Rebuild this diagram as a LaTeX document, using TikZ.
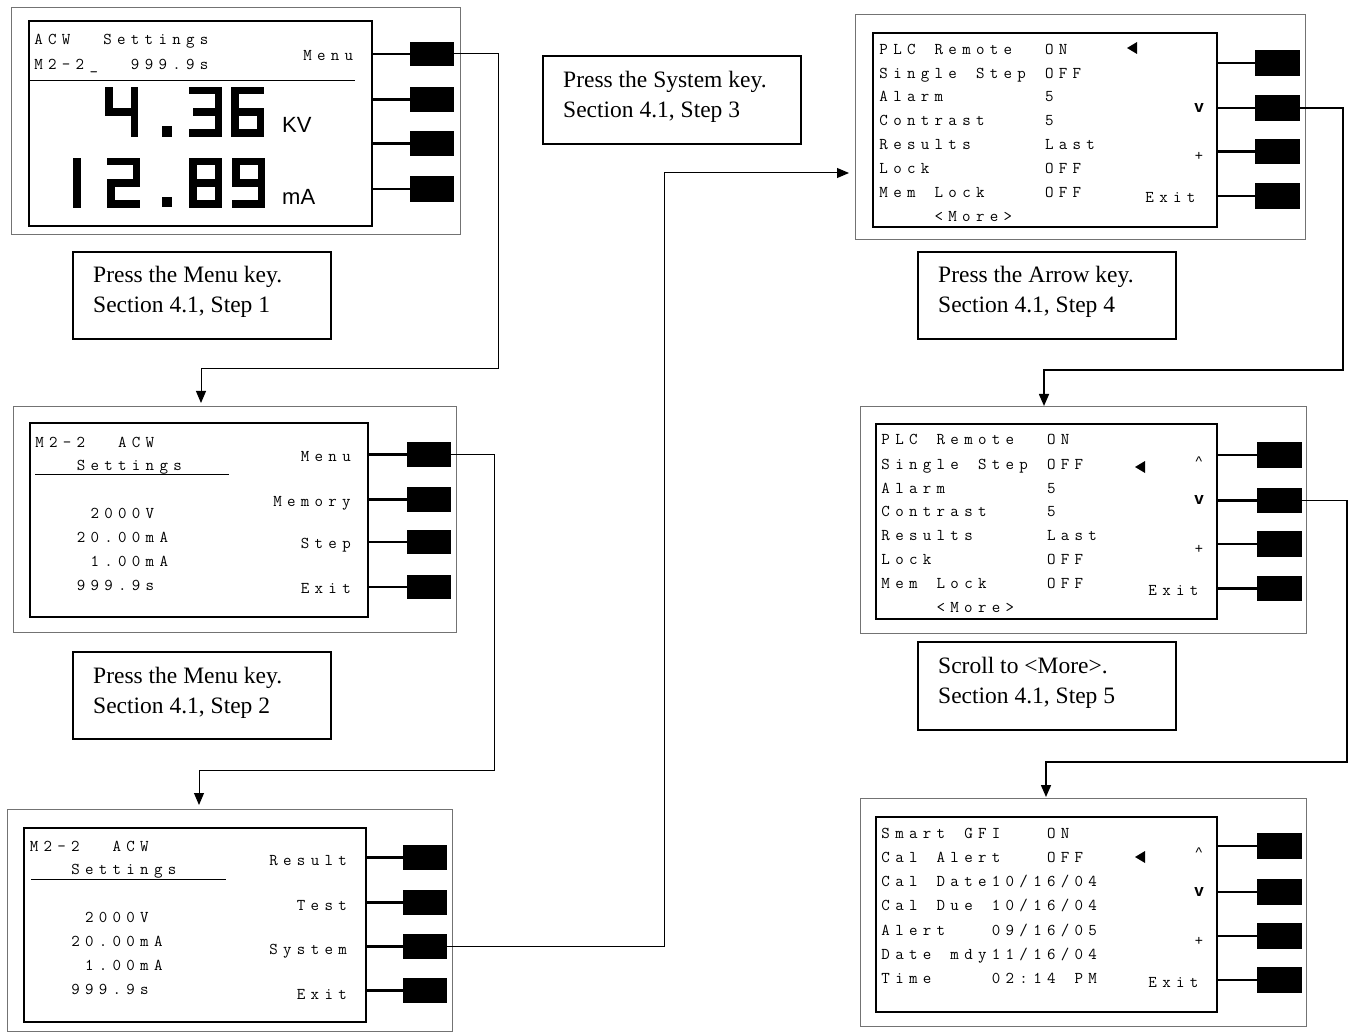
\documentclass[tikz,border=0pt]{standalone}
\usepackage{fontspec}
\usetikzlibrary{arrows.meta,fit}
\newfontfamily\capfont{Liberation Serif}
\newfontfamily\unitfont{Liberation Sans}
\newcommand\lcdfont{\ttfamily}
\ExplSyntaxOn
\dim_new:N \l_lcdp_dim
\dim_set:Nn \l_lcdp_dim {13.8pt}
\NewDocumentCommand\lcd{m}{
  \str_map_inline:nn {#1}
    { \str_if_eq:nnTF {##1}{|}
        { \hbox_to_wd:nn {\l_lcdp_dim} {} }
        { \hbox_to_wd:nn {\l_lcdp_dim} { \hss ##1 \hss } } }
}
\ExplSyntaxOff
\newcommand\rectnode[6][]{\node[#1, fit={(#3,#4) (#5,#6)}] (#2) {};}
\newcommand\sevseg[3]{\begin{scope}[shift={(#1,#2)}]\draw[segstroke] #3;\end{scope}}
\tikzset{
  panel/.style={draw=black!55, line width=1pt, inner sep=0pt, outer sep=0pt},
  screen/.style={draw=black, line width=2.5pt, inner sep=0pt, outer sep=0pt},
  btn/.style={fill=black, draw=none, inner sep=0pt, outer sep=0pt},
  capbox/.style={draw=black, line width=1.5pt, inner sep=0pt, outer sep=0pt},
  keyline/.style={line width=2.5pt},
  conn/.style={line width=1pt, -{Triangle[length=12pt,width=10pt]}},
  connb/.style={line width=1.6pt, -{Triangle[length=12pt,width=10pt]}},
  lcdtxt/.style={inner sep=0pt, anchor=base west, font=\lcdfont\fontsize{16.5}{16.5}\selectfont},
  lcdr/.style={inner sep=0pt, anchor=base east, font=\lcdfont\fontsize{16.5}{16.5}\selectfont},
  caret/.style={inner sep=0pt, anchor=base, font=\unitfont\fontsize{14}{14}\selectfont},
  chev/.style={inner sep=0pt, anchor=base, font=\unitfont\bfseries\fontsize{17}{17}\selectfont},
  unit/.style={inner sep=0pt, anchor=base west, font=\unitfont\fontsize{22}{22}\selectfont},
  captxt/.style={inner sep=0pt, anchor=base west, font=\capfont\fontsize{23.5}{23.5}\selectfont},
  segstroke/.style={line width=7.5pt, line cap=rect, line join=miter},
}
\begin{document}
\begin{tikzpicture}[x=1pt,y=-1pt]
\useasboundingbox (0,0) rectangle (1353,1032);
\fill[white] (0,0) rectangle (1353,1032);

% ---------------- Panel 1 ----------------
\rectnode[panel]{p1}{11}{8}{460}{235}
\rectnode[screen]{p1s}{29}{21}{372}{226}
\rectnode[btn]{p1b1}{410}{42}{454}{66}
\rectnode[btn]{p1b2}{410}{87}{454}{112}
\rectnode[btn]{p1b3}{410}{131}{454}{156}
\rectnode[btn]{p1b4}{410}{176}{454}{202}
\foreach \b in {1,2,3,4}{\draw[keyline] (p1s.east |- p1b\b.west) -- (p1b\b.west);}
\node[lcdtxt] (p1t1) at (31.5,45) {\lcd{ACW||Settings}};
\node[lcdtxt] (p1t2) at (31.5,70) {\lcd{M2-2_||999.9s}};
\node[lcdr] (p1k1) at (356,61) {\lcd{Menu}};
\draw[line width=1pt] (30,81) -- (355,81);
% big digits 4.36
\sevseg{105}{87}{(3.75,3.75)--(3.75,25)--(29.25,25) (29.25,3.75)--(29.25,46.25)}
\fill (162,126) rectangle (172,137);
\sevseg{189}{87}{(3.75,3.75)--(29.25,3.75)--(29.25,46.25)--(3.75,46.25) (8,25)--(29.25,25)}
\sevseg{231}{87}{(29.25,3.75)--(3.75,3.75)--(3.75,46.25)--(29.25,46.25)--(29.25,25)--(3.75,25)}
\node[unit] (p1kv) at (282,133) {KV};
% big digits 12.89
\sevseg{73}{158}{(3.75,3.75)--(3.75,46.25)}
\sevseg{107}{158}{(3.75,3.75)--(29.25,3.75)--(29.25,25)--(3.75,25)--(3.75,46.25)--(29.25,46.25)}
\fill (162,197) rectangle (172,207);
\sevseg{189}{158}{(3.75,3.75) rectangle (29.25,46.25) (3.75,25)--(29.25,25)}
\sevseg{232}{158}{(29.25,25)--(3.75,25)--(3.75,3.75)--(29.25,3.75)--(29.25,46.25)--(3.75,46.25)}
\node[unit] (p1ma) at (282,205) {mA};

% ---------------- Caption 1 ----------------
\rectnode[capbox]{cb1}{73}{252}{331}{339}
\node[captxt] (cb1a) at (93,283) {Press the Menu key.};
\node[captxt] (cb1b) at (93,313) {Section 4.1, Step 1};

% ---------------- Panel 2 ----------------
\rectnode[panel]{p2}{13}{407}{456}{632}
\rectnode[screen]{p2s}{30}{423}{368}{617}
\rectnode[btn]{p2b1}{407}{442}{451}{467}
\rectnode[btn]{p2b2}{407}{487}{451}{512}
\rectnode[btn]{p2b3}{407}{530}{451}{554}
\rectnode[btn]{p2b4}{407}{575}{451}{599}
\foreach \b in {1,2,3,4}{\draw[keyline] (p2s.east |- p2b\b.west) -- (p2b\b.west);}
\node[lcdtxt] (p2t1) at (32.5,447) {\lcd{M2-2||ACW}};
\node[lcdtxt] (p2t2) at (32.5,470) {\lcd{|||Settings}};
\node[lcdtxt] (p2t3) at (32.5,518) {\lcd{||||2000V}};
\node[lcdtxt] (p2t4) at (32.5,542) {\lcd{|||20.00mA}};
\node[lcdtxt] (p2t5) at (32.5,566) {\lcd{||||1.00mA}};
\node[lcdtxt] (p2t6) at (32.5,590) {\lcd{|||999.9s}};
\draw[line width=1pt] (35,474) -- (229,474);
\node[lcdr] (p2k1) at (353.6,461) {\lcd{Menu}};
\node[lcdr] (p2k2) at (353.6,506) {\lcd{Memory}};
\node[lcdr] (p2k3) at (353.6,548) {\lcd{Step}};
\node[lcdr] (p2k4) at (353.6,593) {\lcd{Exit}};

% ---------------- Caption 2 ----------------
\rectnode[capbox]{cb2}{73}{652}{331}{739}
\node[captxt] (cb2a) at (93,683) {Press the Menu key.};
\node[captxt] (cb2b) at (93,713) {Section 4.1, Step 2};

% ---------------- Panel 3 ----------------
\rectnode[panel]{p3}{7}{809}{452}{1031}
\rectnode[screen]{p3s}{24}{828}{366}{1022}
\rectnode[btn]{p3b1}{403}{845}{447}{870}
\rectnode[btn]{p3b2}{403}{890}{447}{915}
\rectnode[btn]{p3b3}{403}{934}{447}{959}
\rectnode[btn]{p3b4}{403}{978}{447}{1003}
\foreach \b in {1,2,3,4}{\draw[keyline] (p3s.east |- p3b\b.west) -- (p3b\b.west);}
\node[lcdtxt] (p3t1) at (27,851) {\lcd{M2-2||ACW}};
\node[lcdtxt] (p3t2) at (27,874) {\lcd{|||Settings}};
\node[lcdtxt] (p3t3) at (27,922) {\lcd{||||2000V}};
\node[lcdtxt] (p3t4) at (27,946) {\lcd{|||20.00mA}};
\node[lcdtxt] (p3t5) at (27,970) {\lcd{||||1.00mA}};
\node[lcdtxt] (p3t6) at (27,994) {\lcd{|||999.9s}};
\draw[line width=1pt] (31,879) -- (226,879);
\node[lcdr] (p3k1) at (349.7,865) {\lcd{Result}};
\node[lcdr] (p3k2) at (349.7,910) {\lcd{Test}};
\node[lcdr] (p3k3) at (349.7,954) {\lcd{System}};
\node[lcdr] (p3k4) at (349.7,999) {\lcd{Exit}};

% ---------------- Caption 3 ----------------
\rectnode[capbox]{cb3}{543}{56}{801}{144}
\node[captxt] (cb3a) at (563,88) {Press the System key.};
\node[captxt] (cb3b) at (563,118) {Section 4.1, Step 3};

% ---------------- Panel 4 ----------------
\rectnode[panel]{p4}{855}{15}{1305}{240}
\rectnode[screen]{p4s}{873}{33}{1217}{227}
\rectnode[btn]{p4b1}{1255}{50}{1300}{76}
\rectnode[btn]{p4b2}{1255}{95}{1300}{121}
\rectnode[btn]{p4b3}{1255}{139}{1300}{164}
\rectnode[btn]{p4b4}{1255}{183}{1300}{209}
\foreach \b in {1,2,3,4}{\draw[keyline] (p4s.east |- p4b\b.west) -- (p4b\b.west);}
\node[lcdtxt] (p4t1) at (876.6,55) {\lcd{PLC|Remote||ON}};
\node[lcdtxt] (p4t2) at (876.6,79) {\lcd{Single|Step|OFF}};
\node[lcdtxt] (p4t3) at (876.6,102) {\lcd{Alarm|||||||5}};
\node[lcdtxt] (p4t4) at (876.6,126) {\lcd{Contrast||||5}};
\node[lcdtxt] (p4t5) at (876.6,150) {\lcd{Results|||||Last}};
\node[lcdtxt] (p4t6) at (876.6,174) {\lcd{Lock||||||||OFF}};
\node[lcdtxt] (p4t7) at (876.6,198) {\lcd{Mem|Lock||||OFF}};
\node[lcdtxt] (p4t8) at (876.6,222) {\lcd{||||<More>}};
\fill (1127,48) -- (1137,42) -- (1137,54) -- cycle;
\node[chev] (p4dn) at (1199,113) {v};
\node[caret] (p4pl) at (1199,161) {+};
\node[lcdtxt] (p4ex) at (1142.6,203) {\lcd{Exit}};

% ---------------- Caption 4 ----------------
\rectnode[capbox]{cb4}{918}{252}{1176}{339}
\node[captxt] (cb4a) at (938,283) {Press the Arrow key.};
\node[captxt] (cb4b) at (938,313) {Section 4.1, Step 4};

% ---------------- Panel 5 ----------------
\rectnode[panel]{p5}{860}{407}{1306}{633}
\rectnode[screen]{p5s}{876}{424}{1217}{619}
\rectnode[btn]{p5b1}{1257}{442}{1302}{468}
\rectnode[btn]{p5b2}{1257}{488}{1302}{513}
\rectnode[btn]{p5b3}{1257}{531}{1302}{557}
\rectnode[btn]{p5b4}{1257}{576}{1302}{601}
\foreach \b in {1,2,3,4}{\draw[keyline] (p5s.east |- p5b\b.west) -- (p5b\b.west);}
\node[lcdtxt] (p5t1) at (878.6,445) {\lcd{PLC|Remote||ON}};
\node[lcdtxt] (p5t2) at (878.6,469) {\lcd{Single|Step|OFF}};
\node[lcdtxt] (p5t3) at (878.6,493) {\lcd{Alarm|||||||5}};
\node[lcdtxt] (p5t4) at (878.6,516) {\lcd{Contrast||||5}};
\node[lcdtxt] (p5t5) at (878.6,540) {\lcd{Results|||||Last}};
\node[lcdtxt] (p5t6) at (878.6,564) {\lcd{Lock||||||||OFF}};
\node[lcdtxt] (p5t7) at (878.6,588) {\lcd{Mem|Lock||||OFF}};
\node[lcdtxt] (p5t8) at (878.6,612) {\lcd{||||<More>}};
\fill (1135,467) -- (1145,461) -- (1145,473) -- cycle;
\node[caret] (p5up) at (1199,466) {\string^};
\node[chev] (p5dn) at (1199,504) {v};
\node[caret] (p5pl) at (1199,553) {+};
\node[lcdtxt] (p5ex) at (1145.6,595) {\lcd{Exit}};

% ---------------- Caption 5 ----------------
\rectnode[capbox]{cb5}{918}{642}{1176}{730}
\node[captxt] (cb5a) at (938,673) {Scroll to <More>.};
\node[captxt] (cb5b) at (938,703) {Section 4.1, Step 5};

% ---------------- Panel 6 ----------------
\rectnode[panel]{p6}{860}{798}{1306}{1026}
\rectnode[screen]{p6s}{876}{817}{1217}{1012}
\rectnode[btn]{p6b1}{1257}{833}{1302}{859}
\rectnode[btn]{p6b2}{1257}{879}{1302}{905}
\rectnode[btn]{p6b3}{1257}{923}{1302}{949}
\rectnode[btn]{p6b4}{1257}{967}{1302}{993}
\foreach \b in {1,2,3,4}{\draw[keyline] (p6s.east |- p6b\b.west) -- (p6b\b.west);}
\node[lcdtxt] (p6t1) at (878.6,838) {\lcd{Smart|GFI|||ON}};
\node[lcdtxt] (p6t2) at (878.6,862) {\lcd{Cal|Alert|||OFF}};
\node[lcdtxt] (p6t3) at (878.6,886) {\lcd{Cal|Date10/16/04}};
\node[lcdtxt] (p6t4) at (878.6,910) {\lcd{Cal|Due|10/16/04}};
\node[lcdtxt] (p6t5) at (878.6,935) {\lcd{Alert|||09/16/05}};
\node[lcdtxt] (p6t6) at (878.6,959) {\lcd{Date|mdy11/16/04}};
\node[lcdtxt] (p6t7) at (878.6,983) {\lcd{Time||||02:14|PM}};
\fill (1135,857) -- (1145,851) -- (1145,863) -- cycle;
\node[caret] (p6up) at (1199,857) {\string^};
\node[chev] (p6dn) at (1199,896) {v};
\node[caret] (p6pl) at (1199,945) {+};
\node[lcdtxt] (p6ex) at (1145.6,987) {\lcd{Exit}};

% ---------------- Connectors ----------------
\coordinate (k1) at (498,369);  \coordinate (t1) at (201,403);
\coordinate (k2) at (494,770);  \coordinate (t2) at (199,805);
\coordinate (k3) at (664,173);  \coordinate (t3) at (849,173);
\coordinate (k4) at (1343,370); \coordinate (t4) at (1044,406);
\coordinate (k5) at (1347,762); \coordinate (t5) at (1046,797);
\draw[conn] (p1b1.east) -| (k1) -| (t1);
\draw[conn] (p2b1.east) -| (k2) -| (t2);
\draw[conn] (p3b3.east) -| (k3) -- (t3);
\draw[connb] (p4b2.east) -| (k4) -| (t4);
\draw[connb] (p5b2.east) -| (k5) -| (t5);
\end{tikzpicture}
\end{document}
